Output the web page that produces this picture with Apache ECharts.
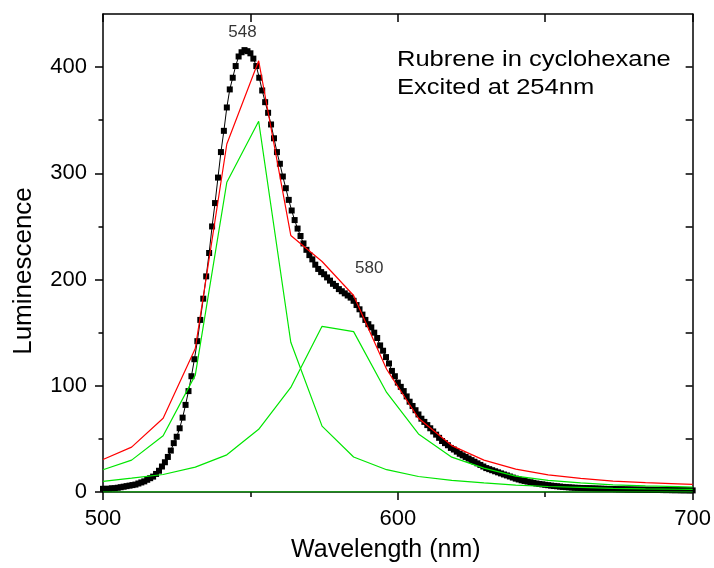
<!DOCTYPE html>
<html><head><meta charset="utf-8">
<script src="https://cdn.jsdelivr.net/npm/echarts@6/dist/echarts.min.js"></script>
<style>html,body{margin:0;padding:0;background:#fff}#c{width:714px;height:568px}</style>
</head><body><div id="c"></div>
<script>
// Measured luminescence, one point per nm starting at 500 nm
const wlStart = 500;
const wlStep = 1;
const luminescence = [
  3, 3, 3, 3.5, 3.5, 4, 4.5, 5, 5.5, 6,
  6.5, 7, 8, 9, 10, 11.5, 13, 14.5, 17, 20,
  24, 28, 33, 39, 46, 52, 60, 70, 82, 95,
  109, 125, 142, 162, 182, 203, 225, 250, 272, 296,
  320, 340, 362, 379, 390, 401, 410, 414, 416, 415,
  413, 408, 401, 390, 378, 367, 357, 346, 333, 320,
  309, 297, 286, 275, 265, 256, 248, 241, 234, 228,
  223, 219, 214, 210, 207, 205, 202, 199, 196, 194,
  191, 189, 187, 185, 183, 180, 176, 172, 167, 162,
  158, 155, 150, 145, 138, 133, 127, 121, 114, 109,
  103, 99, 95, 90, 85, 81, 77, 73, 69, 66,
  63, 60, 57, 54, 51, 48, 46, 44, 41.5, 40,
  38, 36, 34.5, 33, 31.5, 30, 28.5, 27, 25.5, 24,
  22.5, 21.5, 20.5, 19.5, 18.5, 17.5, 16.5, 15.6, 14.6, 13.6,
  12.6, 11.8, 11, 10.4, 9.8, 9.2, 8.6, 8, 7.6, 7.2,
  6.8, 6.4, 6, 5.7, 5.4, 5.1, 4.8, 4.6, 4.4, 4.2,
  4, 3.9, 3.8, 3.7, 3.6, 3.5, 3.4, 3.3, 3.2, 3.1,
  3, 2.9, 2.8, 2.8, 2.7, 2.6, 2.6, 2.5, 2.4, 2.4,
  2.3, 2.3, 2.2, 2.2, 2.1, 2.1, 2, 2, 1.9, 1.9,
  1.8, 1.8, 1.8, 1.7, 1.7, 1.7, 1.6, 1.6, 1.6, 1.5,
  1.5
];
// Fit (red) and its two components (green)
const fitX     = [500, 509.7, 520.4, 531.3, 542, 552.8, 563.7, 574.3, 585, 596.2, 607, 618.3, 629.2, 640, 651, 662, 673, 684, 695, 700];
const fitTotal = [30.6, 42.2, 69.4, 135, 327.6, 406, 241.5, 217, 185, 115.6, 69.4, 43.7, 30, 21.5, 16.2, 12.8, 10.3, 8.8, 7.6, 7.1];
const comp1    = [20.9, 30, 53, 110, 291.6, 349, 141, 62, 33, 21, 14.6, 11, 8.5, 6.5, 5.2, 4.3, 3.5, 3, 2.6, 2.4];
const comp2    = [10, 13, 16.5, 23.4, 35, 59, 98.4, 156, 151, 93.7, 54.7, 32.8, 22.5, 15, 11, 8.5, 6.8, 5.8, 5, 4.7];
const baselineX = [500, 700];
const baselineY = [0, 0];
// Axis ticks
const yMajorTicks = [0, 100, 200, 300, 400];
const yMinorTicks = [50, 150, 250, 350];
const yRightTicks = [0, 50, 100, 150, 200, 250, 300, 350, 400];
// Peak annotations
const peakLabels = ['548', '580'];
const peakLabelX = [547.3, 590.3];
const peakLabelY = [432.5, 211];
const noteLines = ['Rubrene in cyclohexane', 'Excited at 254nm'];

const FONT = '"Liberation Sans", Arial, Helvetica, sans-serif';
const BLACK = '#000';
const GREEN = '#00e600';
const RED = '#ff0000';

const chart = echarts.init(document.getElementById('c'), null, {renderer: 'canvas'});
const axisLineStyle = {color: BLACK, width: 1.5};
const zip = (xs, ys) => xs.map((x, i) => [x, ys[i]]);

chart.setOption({
  animation: false,
  backgroundColor: '#fff',
  grid: {left: 103, right: 21, top: 14, bottom: 75, containLabel: false},
  xAxis: [
    {
      type: 'value', min: 500, max: 700, interval: 100, position: 'bottom',
      axisLine: {onZero: false, lineStyle: axisLineStyle},
      axisTick: {inside: false, length: 8, lineStyle: axisLineStyle},
      minorTick: {show: true, splitNumber: 2, length: 5, lineStyle: axisLineStyle},
      axisLabel: {fontSize: 22, color: BLACK, margin: 16, fontFamily: FONT},
      splitLine: {show: false},
      name: 'Wavelength (nm)', nameLocation: 'middle', nameGap: 46,
      nameTextStyle: {fontSize: 25, color: BLACK, fontFamily: FONT, padding: [0, 24, 0, 0]}
    },
    {
      type: 'value', min: 500, max: 700, interval: 50, position: 'top',
      axisLine: {onZero: false, lineStyle: axisLineStyle},
      axisTick: {inside: true, length: 8, lineStyle: axisLineStyle},
      axisLabel: {show: false}, splitLine: {show: false}
    }
  ],
  yAxis: [
    {
      type: 'value', min: 0, max: 450, interval: 100, position: 'left',
      axisLine: {show: true, onZero: false, lineStyle: axisLineStyle},
      axisTick: {show: true, inside: false, length: 8, customValues: yMajorTicks, lineStyle: axisLineStyle},
      axisLabel: {customValues: yMajorTicks, fontSize: 22, color: BLACK, margin: 16, fontFamily: FONT},
      splitLine: {show: false},
      name: 'Luminescence', nameLocation: 'middle', nameGap: 66, nameRotate: 90,
      nameTextStyle: {fontSize: 26, color: BLACK, fontFamily: FONT, padding: [0, 36, 0, 0]}
    },
    {
      type: 'value', min: 0, max: 450, position: 'left',
      axisLine: {show: false},
      axisTick: {show: true, inside: false, length: 4.5, customValues: yMinorTicks, lineStyle: axisLineStyle},
      axisLabel: {show: false}, splitLine: {show: false}
    },
    {
      type: 'value', min: 0, max: 450, interval: 50, position: 'right',
      axisLine: {show: true, onZero: false, lineStyle: axisLineStyle},
      axisTick: {show: true, inside: true, length: 7, customValues: yRightTicks, lineStyle: axisLineStyle},
      axisLabel: {show: false}, splitLine: {show: false}
    }
  ],
  series: [
    {
      name: 'data', type: 'line', xAxisIndex: 0, yAxisIndex: 0,
      data: luminescence.map((v, i) => [wlStart + i * wlStep, v]),
      symbol: 'rect', symbolSize: 6, showSymbol: true, showAllSymbol: true,
      lineStyle: {color: BLACK, width: 1}, itemStyle: {color: BLACK}, z: 2, silent: true
    },
    {
      name: 'baseline', type: 'line', data: zip(baselineX, baselineY), symbol: 'none',
      lineStyle: {color: GREEN, width: 1.2}, z: 3, silent: true
    },
    {
      name: 'peak1', type: 'line', data: zip(fitX, comp1), symbol: 'none',
      lineStyle: {color: GREEN, width: 1.2}, z: 3, silent: true
    },
    {
      name: 'peak2', type: 'line', data: zip(fitX, comp2), symbol: 'none',
      lineStyle: {color: GREEN, width: 1.2}, z: 3, silent: true
    },
    {
      name: 'fit', type: 'line', data: zip(fitX, fitTotal), symbol: 'none',
      lineStyle: {color: RED, width: 1.2}, z: 4, silent: true
    },
    {
      name: 'labels', type: 'scatter', symbol: 'circle', symbolSize: 1,
      itemStyle: {color: 'rgba(0,0,0,0)'}, silent: true, z: 5,
      data: peakLabelX.map((x, i) => ({value: [x, peakLabelY[i]], name: peakLabels[i]})),
      label: {show: true, position: 'inside', formatter: p => p.name, fontSize: 17, color: BLACK, fontFamily: FONT}
    }
  ],
  graphic: noteLines.map((t, i) => ({
    type: 'text', x: 397, y: 49 + i * 28, scaleX: 1.16, silent: true,
    style: {text: t, x: 0, y: 0, font: '22px ' + FONT, fill: BLACK, textAlign: 'left', textVerticalAlign: 'top'}
  }))
});
</script></body></html>
